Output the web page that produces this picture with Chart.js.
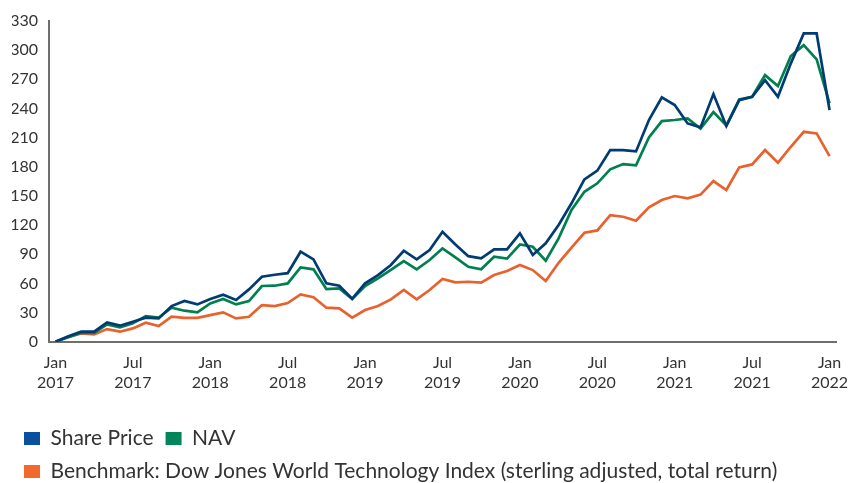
<!DOCTYPE html>
<html>
<head>
<meta charset="utf-8">
<title>Share Price, NAV and Benchmark</title>
<script src="https://cdn.jsdelivr.net/npm/chart.js@4/dist/chart.umd.min.js"></script>
<style>
  html, body { margin: 0; padding: 0; background: #fff; }
  #wrap { width: 849px; height: 483px; }
</style>
</head>
<body>
<div id="wrap"><canvas id="chart" width="849" height="483"></canvas></div>
<script>
// ===== DATA (monthly, cumulative % return) =====
const tickLabels = ['Jan 2017', 'Jul 2017', 'Jan 2018', 'Jul 2018', 'Jan 2019', 'Jul 2019',
                    'Jan 2020', 'Jul 2020', 'Jan 2021', 'Jul 2021', 'Jan 2022'];
const monthsPerTick = 6;

const sharePrice = [
  0, 5.5, 10.3, 10.3, 19.9, 16.5, 20.6, 24.7, 24, 36.7,
  42, 38.4, 43.9, 48.3, 42.9, 53.8, 66.9, 68.9, 70.5, 92.6,
  84.7, 60, 57.6, 44.2, 60, 68.6, 78.9, 93.6, 84.7, 94.3,
  113.1, 100, 88, 85.7, 95, 95, 111.5, 89.2, 101.2, 120.1,
  142.4, 167, 176, 197.2, 197.2, 195.8, 228.1, 251.4, 243.5, 224.6,
  220.5, 254.8, 221.9, 248.6, 252.1, 269.2, 252.1, 286.4, 317.2, 317.2,
  238.3
];
const nav = [
  0, 4.5, 9.3, 9, 17.8, 14.7, 18.9, 26.4, 24.7, 35,
  31.9, 30.2, 39.4, 43.9, 38.4, 41.8, 57.3, 57.6, 60, 76.5,
  74.5, 54.2, 54.9, 43.9, 57.3, 65.2, 73.8, 83, 74.5, 84,
  96, 86.8, 77.1, 74.5, 87.4, 85.5, 100, 97.7, 83.3, 106.4,
  135.5, 154.3, 163, 177.4, 182.8, 181.5, 210.2, 227, 228.1, 229.8,
  219.2, 236.3, 222.6, 249.3, 252.1, 274.3, 263, 293.9, 305.2, 290.5,
  245.2
];
const benchmark = [
  0, 5, 8.6, 7.5, 13, 10.3, 13.7, 19.5, 16.1, 25.7,
  24.5, 24.5, 27.4, 30.2, 24, 25.7, 37.7, 36.7, 39.8, 48.7,
  45.7, 35, 34.3, 24.8, 32.6, 36.7, 43.6, 53.2, 43.6, 53.2,
  64.5, 61, 61.7, 60.7, 68.6, 72.8, 78.9, 73.7, 62.4, 81.2,
  96.7, 112.1, 114.5, 130.3, 128.6, 124.4, 138.2, 145.8, 149.9, 147.5,
  151.3, 165.3, 156.1, 179.4, 182.4, 197.2, 184.2, 200.6, 216, 214.3,
  191
];
const yMin = 0, yMax = 330, yStep = 30;

const seriesNames = ['Share Price', 'NAV',
  'Benchmark: Dow Jones World Technology Index (sterling adjusted, total return)'];
const lineColors   = ['#003b72', '#00804f', '#e8622d'];
const legendColors = ['#0b4f9f', '#00865a', '#f2692e'];

// one category per month, label only every 6th month (two lines: month / year)
const months = sharePrice.map((_, i) =>
  i % monthsPerTick === 0 ? tickLabels[i / monthsPerTick].split(' ') : '');

const textColor = '#333333';
const axisColor = '#6e6e6e';

const makeDataset = (label, color, data) => ({
  label,
  data,
  borderColor: color,
  backgroundColor: color,
  borderWidth: 2.7,
  borderJoinStyle: 'miter',
  pointRadius: 0,
  tension: 0,
  fill: false,
});

new Chart(document.getElementById('chart').getContext('2d'), {
  type: 'line',
  data: {
    labels: months,
    datasets: [
      makeDataset(seriesNames[0], lineColors[0], sharePrice),
      makeDataset(seriesNames[1], lineColors[1], nav),
      makeDataset(seriesNames[2], lineColors[2], benchmark),
    ]
  },
  options: {
    responsive: false,
    animation: false,
    devicePixelRatio: 1,
    layout: { padding: { top: 21, left: 12, right: 13, bottom: -9 } },
    plugins: {
      tooltip: { enabled: false },
      legend: {
        position: 'bottom',
        align: 'start',
        labels: {
          boxWidth: 16,
          boxHeight: 13,
          padding: 12,
          color: textColor,
          font: { family: 'Lato', size: 21 },
          generateLabels: chart => chart.data.datasets.map((ds, i) => ({
            text: ds.label,
            fillStyle: legendColors[i],
            strokeStyle: legendColors[i],
            lineWidth: 0,
            hidden: false,
            datasetIndex: i,
            fontColor: textColor,
          }))
        }
      }
    },
    scales: {
      x: {
        type: 'category',
        offset: true,
        grid: { display: false, drawTicks: false },
        border: { display: true, color: axisColor, width: 2 },
        ticks: {
          autoSkip: false,
          maxRotation: 0,
          padding: 11,
          color: textColor,
          font: { family: 'Lato', size: 16, lineHeight: 1.25 }
        },
        afterFit: s => { s.paddingLeft = 0; s.paddingRight = 0; s.height = 74.3; }
      },
      y: {
        min: yMin,
        max: yMax,
        grid: { display: false, drawTicks: false },
        border: { display: true, color: axisColor, width: 2 },
        ticks: {
          stepSize: yStep,
          padding: 11,
          color: textColor,
          font: { family: 'Lato', size: 16 }
        },
        afterFit: s => { s.width = 37; }
      }
    }
  }
});
</script>
</body>
</html>
